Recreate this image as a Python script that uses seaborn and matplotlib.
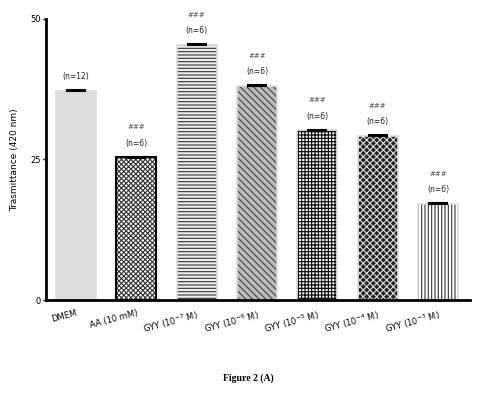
"""
bar chart of transmittance, Figure 2 (A)
"""

import matplotlib
matplotlib.use('AGG')
import matplotlib.pyplot as plt
import pandas as pd
import seaborn as sns

groups = ['DMEM', 'AA (10 mM)', 'GYY (10$^{-7}$ M)', 'GYY (10$^{-6}$ M)',
          'GYY (10$^{-5}$ M)', 'GYY (10$^{-4}$ M)', 'GYY (10$^{-3}$ M)']
transmittance = [37.2, 25.4, 45.4, 38.1, 30.2, 29.2, 17.1]
sem = [0.1, 0.08, 0.08, 0.08, 0.1, 0.1, 0.08]
n_labels = ['(n=12)', '(n=6)', '(n=6)', '(n=6)', '(n=6)', '(n=6)', '(n=6)']
sig_labels = ['', '###', '###', '###', '###', '###', '###']

# fill, hatch, hatch colour, outline colour
styles = [('#dddddd', '', '#dddddd', '#dddddd'),
          ('white', 'xxxxxxx', '#333333', 'black'),
          ('#eeeeee', '-----', '#333333', '#dddddd'),
          ('#bbbbbb', '\\\\\\\\\\', '#444444', '#dddddd'),
          ('white', '+++++', 'black', '#dddddd'),
          ('#222222', 'xxxxx', '#dddddd', '#dddddd'),
          ('white', '|||||', '#333333', '#dddddd')]

plt.rcParams['font.family'] = ['DejaVu Sans']
plt.rcParams['hatch.linewidth'] = 0.8

df = pd.DataFrame({'group': groups, 'value': transmittance})

fig = plt.figure(figsize=(4.82, 3.95), dpi=100)
ax = fig.add_axes([0.0954, 0.2405, 0.8796, 0.7115])
sns.barplot(data=df, x='group', y='value', ax=ax, width=0.665,
            color='#dddddd', errorbar=None)

for patch, (face, hatch, hcol, edge) in zip(ax.patches, styles):
    patch.set_facecolor(face)
    patch.set_hatch(hatch)
    patch.set_edgecolor(hcol)
    patch.set_linewidth(0)
    x0, w, h = patch.get_x(), patch.get_width(), patch.get_height()
    ax.add_patch(plt.Rectangle((x0, 0), w, h, fill=False, edgecolor=edge,
                               linewidth=1.5 if edge == 'black' else 1.2))

ax.errorbar(range(len(groups)), transmittance, yerr=sem, fmt='none',
            ecolor='black', elinewidth=1, capsize=7.2, capthick=1.5)

for i, (v, n, s) in enumerate(zip(transmittance, n_labels, sig_labels)):
    ax.text(i, v + 2.5, n, ha='center', va='center', fontsize=5.5,
            color='#222222')
    if s:
        ax.text(i, v + 5.3, s, ha='center', va='center', fontsize=5,
                color='#444444')

ax.set_ylim(0, 50)
ax.set_xlim(-0.5, 6.53)
ax.set_yticks([0, 25, 50])
ax.set_xlabel('')
ax.set_ylabel('Trasmittance (420 nm)', fontsize=6.5, labelpad=8)
ax.tick_params(axis='y', labelsize=6, length=2, width=1, pad=2)
ax.tick_params(axis='x', length=0, pad=6)
ax.set_xticks(range(len(groups)))
ax.set_xticklabels(groups, rotation=15, ha='right', rotation_mode='anchor',
                   fontsize=6)
sns.despine(ax=ax)
ax.spines['left'].set_linewidth(2)
ax.spines['bottom'].set_linewidth(2)

fig.text(0.515, 0.043, 'Figure 2 (A)', ha='center', va='center',
         fontsize=7, fontweight='bold', family='Liberation Serif')

fig.savefig('out.png', dpi=100)
plt.close()
